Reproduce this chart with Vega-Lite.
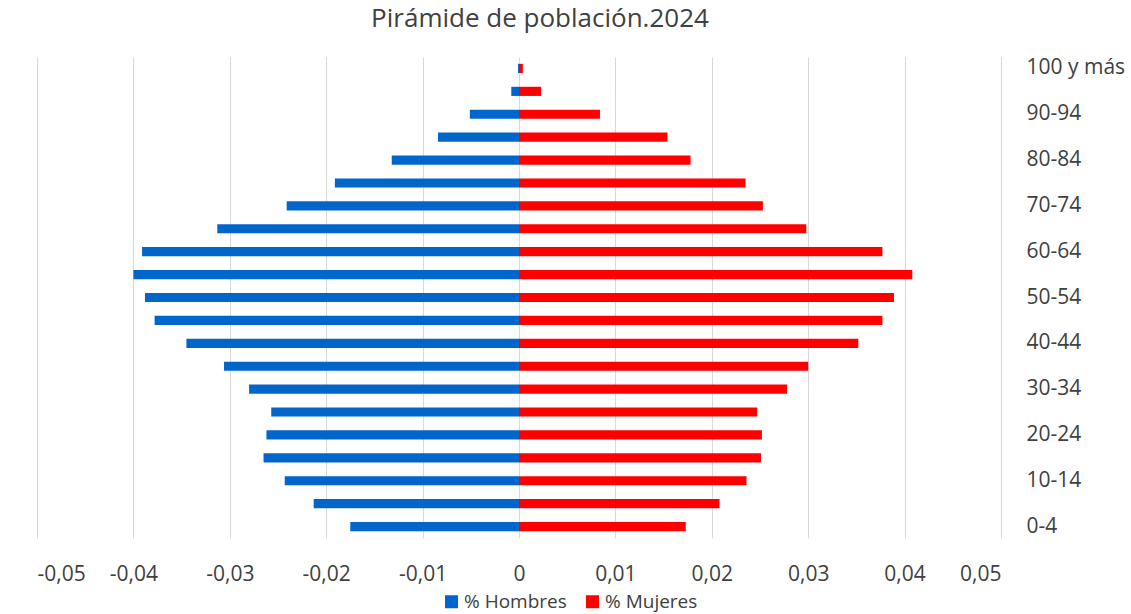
{
  "$schema": "https://vega.github.io/schema/vega-lite/v6.json",
  "width": 964,
  "height": 481,
  "autosize": {"type": "none"},
  "padding": {"left": 37, "top": 57, "right": 130, "bottom": 76},
  "background": "white",
  "title": {
    "text": "Pirámide de población.2024",
    "font": "Open Sans",
    "fontSize": 26,
    "fontWeight": "normal",
    "color": "#404040",
    "anchor": "middle",
    "dx": 21,
    "offset": 25
  },
  "data": {
    "values": [
      {"edad": "0-4", "sexo": "% Hombres", "valor": -0.0175},
      {"edad": "5-9", "sexo": "% Hombres", "valor": -0.0213},
      {"edad": "10-14", "sexo": "% Hombres", "valor": -0.0243},
      {"edad": "15-19", "sexo": "% Hombres", "valor": -0.0265},
      {"edad": "20-24", "sexo": "% Hombres", "valor": -0.0262},
      {"edad": "25-29", "sexo": "% Hombres", "valor": -0.0257},
      {"edad": "30-34", "sexo": "% Hombres", "valor": -0.0280},
      {"edad": "35-39", "sexo": "% Hombres", "valor": -0.0306},
      {"edad": "40-44", "sexo": "% Hombres", "valor": -0.0345},
      {"edad": "45-49", "sexo": "% Hombres", "valor": -0.0378},
      {"edad": "50-54", "sexo": "% Hombres", "valor": -0.0388},
      {"edad": "55-59", "sexo": "% Hombres", "valor": -0.0400},
      {"edad": "60-64", "sexo": "% Hombres", "valor": -0.0391},
      {"edad": "65-69", "sexo": "% Hombres", "valor": -0.0313},
      {"edad": "70-74", "sexo": "% Hombres", "valor": -0.0241},
      {"edad": "75-79", "sexo": "% Hombres", "valor": -0.0191},
      {"edad": "80-84", "sexo": "% Hombres", "valor": -0.0132},
      {"edad": "85-89", "sexo": "% Hombres", "valor": -0.0084},
      {"edad": "90-94", "sexo": "% Hombres", "valor": -0.0051},
      {"edad": "95-99", "sexo": "% Hombres", "valor": -0.0008},
      {"edad": "100 y más", "sexo": "% Hombres", "valor": -0.0001},
      {"edad": "0-4", "sexo": "% Mujeres", "valor": 0.0173},
      {"edad": "5-9", "sexo": "% Mujeres", "valor": 0.0208},
      {"edad": "10-14", "sexo": "% Mujeres", "valor": 0.0236},
      {"edad": "15-19", "sexo": "% Mujeres", "valor": 0.0251},
      {"edad": "20-24", "sexo": "% Mujeres", "valor": 0.0252},
      {"edad": "25-29", "sexo": "% Mujeres", "valor": 0.0247},
      {"edad": "30-34", "sexo": "% Mujeres", "valor": 0.0278},
      {"edad": "35-39", "sexo": "% Mujeres", "valor": 0.0300},
      {"edad": "40-44", "sexo": "% Mujeres", "valor": 0.0352},
      {"edad": "45-49", "sexo": "% Mujeres", "valor": 0.0377},
      {"edad": "50-54", "sexo": "% Mujeres", "valor": 0.0389},
      {"edad": "55-59", "sexo": "% Mujeres", "valor": 0.0408},
      {"edad": "60-64", "sexo": "% Mujeres", "valor": 0.0377},
      {"edad": "65-69", "sexo": "% Mujeres", "valor": 0.0298},
      {"edad": "70-74", "sexo": "% Mujeres", "valor": 0.0253},
      {"edad": "75-79", "sexo": "% Mujeres", "valor": 0.0235},
      {"edad": "80-84", "sexo": "% Mujeres", "valor": 0.0178},
      {"edad": "85-89", "sexo": "% Mujeres", "valor": 0.0154},
      {"edad": "90-94", "sexo": "% Mujeres", "valor": 0.0084},
      {"edad": "95-99", "sexo": "% Mujeres", "valor": 0.0023},
      {"edad": "100 y más", "sexo": "% Mujeres", "valor": 0.0004}
    ]
  },
  "mark": {"type": "bar"},
  "encoding": {
    "x": {
      "field": "valor",
      "type": "quantitative",
      "stack": null,
      "scale": {"domain": [-0.05, 0.05], "nice": false, "zero": true},
      "axis": {
        "title": null,
        "values": [-0.05, -0.04, -0.03, -0.02, -0.01, 0, 0.01, 0.02, 0.03, 0.04, 0.05],
        "labelExpr": "datum.value == 0 ? '0' : (datum.value < 0 ? '-' : '') + replace(format(abs(datum.value), '.2f'), '.', ',')",
        "domain": false,
        "ticks": false,
        "grid": true,
        "gridColor": "#d9d9d9",
        "gridWidth": 1,
        "labelFont": "Open Sans",
        "labelFontSize": 21,
        "labelColor": "#404040",
        "labelPadding": 25
      }
    },
    "y": {
      "field": "edad",
      "type": "nominal",
      "scale": {
        "domain": ["100 y más", "95-99", "90-94", "85-89", "80-84", "75-79", "70-74", "65-69", "60-64", "55-59", "50-54", "45-49", "40-44", "35-39", "30-34", "25-29", "20-24", "15-19", "10-14", "5-9", "0-4"],
        "paddingInner": 0.6,
        "paddingOuter": 0.3
      },
      "axis": {
        "orient": "right",
        "title": null,
        "values": ["100 y más", "90-94", "80-84", "70-74", "60-64", "50-54", "40-44", "30-34", "20-24", "10-14", "0-4"],
        "domain": false,
        "ticks": false,
        "grid": false,
        "labelFont": "Open Sans",
        "labelFontSize": 21,
        "labelColor": "#404040",
        "labelPadding": 25
      }
    },
    "color": {
      "field": "sexo",
      "type": "nominal",
      "scale": {"domain": ["% Hombres", "% Mujeres"], "range": ["#0066CC", "#FF0000"]},
      "legend": {
        "title": null,
        "orient": "none",
        "direction": "horizontal",
        "legendX": 405,
        "legendY": 535,
        "padding": 0,
        "symbolType": "square",
        "symbolSize": 169,
        "symbolStrokeWidth": 0,
        "symbolOpacity": 1,
        "labelFont": "Open Sans",
        "labelFontSize": 19,
        "labelColor": "#404040",
        "labelOffset": 3,
        "columnPadding": 16
      }
    }
  },
  "config": {"view": {"stroke": null}}
}
